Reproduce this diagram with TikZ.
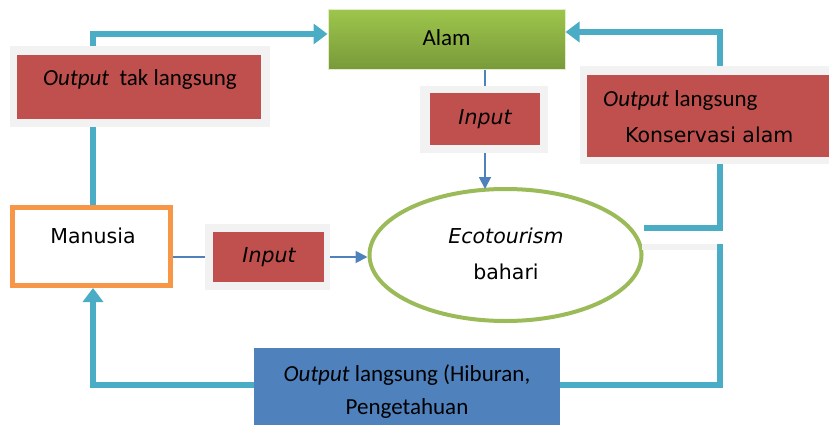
\documentclass[tikz,border=0pt]{standalone}
\usepackage{fontspec}
\setmainfont{Carlito}
\newfontfamily\comicf{DejaVu Sans}
\usetikzlibrary{arrows.meta,shapes.geometric}
\definecolor{cyanl}{HTML}{4BACC6}
\definecolor{redb}{HTML}{C0504D}
\definecolor{grayf}{HTML}{F2F2F2}
\definecolor{bluel}{HTML}{4F81BD}
\definecolor{greene}{HTML}{9BBB59}
\definecolor{orangeb}{HTML}{F79646}
\definecolor{gtop}{HTML}{9DC54B}
\definecolor{gbot}{HTML}{78993A}
\tikzset{
  cline/.style={cyanl, line width=6pt},
  ctip/.style={-{Triangle[width=20pt,length=14pt]}},
  bline/.style={bluel, line width=1.8pt},
  btip/.style={-{Triangle[width=12pt,length=12pt]}},
  frame/.style={fill=grayf, draw=none, inner sep=0pt, anchor=north west},
  redbox/.style={fill=redb, draw=none, inner sep=0pt, anchor=north west},
  txt/.style={font=\fontsize{23}{27}\selectfont, inner sep=0pt, text=black},
  ctxt/.style={font=\comicf\fontsize{20.5}{25}\selectfont, inner sep=0pt, text=black},
}
\begin{document}
\begin{tikzpicture}[x=1pt,y=-1pt]
\useasboundingbox (0,0) rectangle (829,425);
% main shapes
\node[draw=white!70!gtop, line width=1pt, top color=gtop, bottom color=gbot, minimum width=237pt, minimum height=60pt, inner sep=0pt] (alam) at (446.5,40) {};
\node[txt] (alamt) at (446.5,38) {Alam};
\node[draw=orangeb, line width=5pt, fill=white, minimum width=158pt, minimum height=78pt, inner sep=0pt] (man) at (91.5,246.5) {};
\node[ctxt] (mant) at (93,236) {Manusia};
\node[ellipse, draw=greene, line width=4pt, fill=white, minimum width=272pt, minimum height=132pt, inner sep=0pt] (eco) at (505.5,255) {};
\node[ctxt] (ecot1) at (506,236) {\itshape Ecotourism};
\node[ctxt] (ecot2) at (506,272) {bahari};
% connectors
\coordinate (tl) at (93,34);
\coordinate (tr) at (720,32);
\coordinate (rm) at (720,228);
\coordinate (rg) at (720,247);
\coordinate (br) at (720,385);
\coordinate (bl) at (93,385);
\coordinate (etop) at (485,189);
\draw[cline, ctip] (man.north -| tl) -- (tl) -- (alam.west |- tl);
\draw[cline, ctip] (eco.east |- rm) -- (rm) -- (tr) -- (alam.east |- tr);
\draw[grayf, line width=6pt] (642,247) -- (rg);
\draw[cline, ctip] ([yshift=3pt]rg) -- (br) -- (bl) -- (man.south -| bl);
% boxes with gray frame
\node[frame, minimum width=260pt, minimum height=81pt] (f1) at (10,46) {};
\node[redbox, minimum width=244pt, minimum height=64pt] (r1) at (17,55) {};
\node[txt] (t1) at (140,79) {\itshape Output\upshape\ \ tak langsung};
\node[frame, minimum width=249pt, minimum height=98pt] (f2) at (580,66) {};
\node[redbox, minimum width=242pt, minimum height=82pt] (r2) at (587,75) {};
\node[txt, anchor=west] (t2a) at (603,100) {\itshape Output\upshape\ langsung};
\node[ctxt, anchor=west] (t2b) at (625,135) {Konservasi alam};
\node[frame, minimum width=128pt, minimum height=67pt] (f3) at (420,86) {};
\node[redbox, minimum width=110pt, minimum height=52pt] (r3) at (430,93) {};
\node[ctxt] (t3) at (485,119) {\itshape Input};
\node[frame, minimum width=125pt, minimum height=66pt] (f4) at (205,224) {};
\node[redbox, minimum width=111pt, minimum height=50pt] (r4) at (213,232) {};
\node[ctxt] (t4) at (269,257) {\itshape Input};
\draw[bline] (alam.south -| t3) -- (f3.north -| t3);
\draw[bline, btip] (f3.south -| t3) -- (etop);
\draw[bline] (man.east |- t4) -- (f4.west |- t4);
\draw[bline, btip] (f4.east |- t4) -- (eco.west |- t4);
% bottom blue box
\node[fill=bluel, draw=none, inner sep=0pt, anchor=north west, minimum width=306pt, minimum height=80pt] (bb) at (254,348) {};
\node[txt] (bt1) at (407,375) {\itshape Output\upshape\ langsung (Hiburan,};
\node[txt] (bt2) at (407,408) {Pengetahuan};
\end{tikzpicture}
\end{document}
